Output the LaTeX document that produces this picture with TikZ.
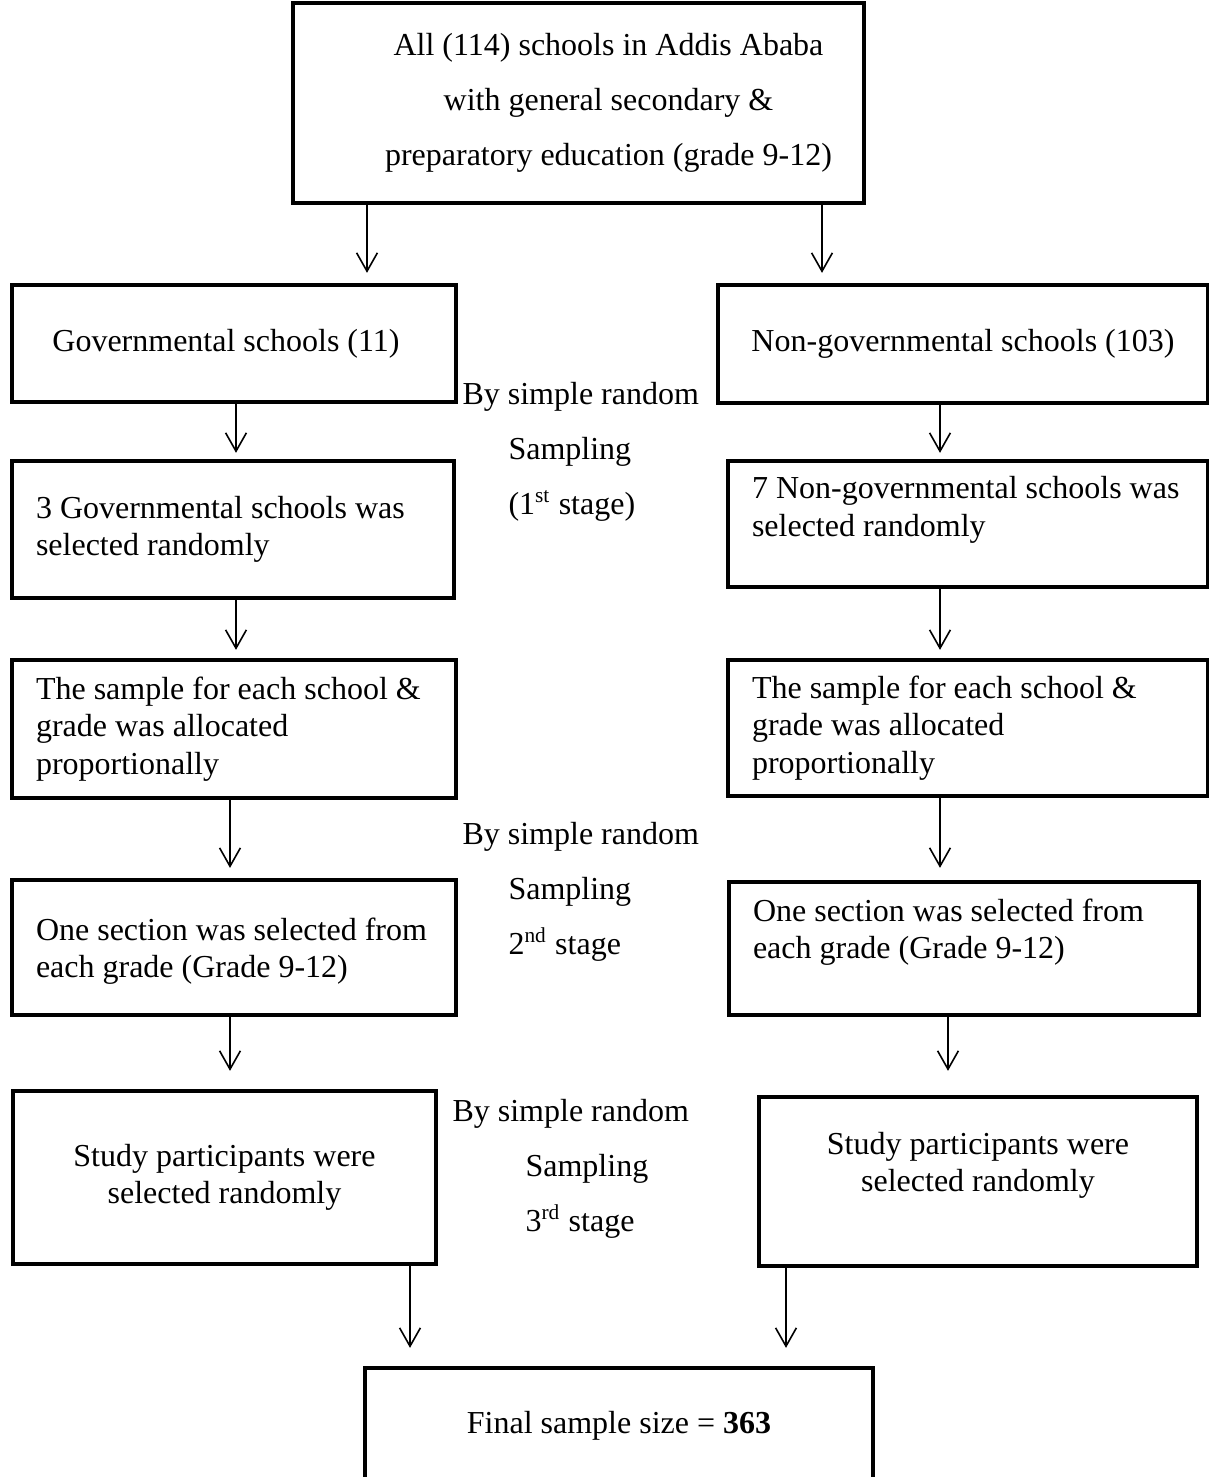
\documentclass[tikz,border=0pt]{standalone}
\usepackage{fontspec}
\setmainfont{Liberation Serif}
\usetikzlibrary{arrows.meta}
\tikzset{
>={Straight Barb[length=6.9pt,width=7.8pt]}, % open arrow heads
every node/.style={font=\fontsize{12}{14}\selectfont}, % 12pt serif, single spacing
box/.style={draw, rectangle, line width=1.6pt, inner xsep=9pt, inner ysep=0pt}, % thick frame round each step
lbox/.style={box, align=flush left}, % text flush left
cbox/.style={box, align=flush center}, % text centred
nudge/.style={execute at begin node={\advance\leftskip #1\relax\parfillskip=0pt\relax}}, % moves centred text sideways
sampling/.style={align=flush left, inner sep=0pt, anchor=west, font=\fontsize{12}{20.6}\selectfont}, % notes between the columns
flow/.style={->, line width=0.6pt}, % the connectors
}
\begin{document}
\begin{tikzpicture}[x=0.375pt, y=-0.375pt]
  \useasboundingbox (0,0) rectangle (1209,1477);
  % population
  \node[cbox, nudge=22.5pt, minimum width=214.1pt, minimum height=75pt, text width=196.1pt,
        font=\fontsize{12}{20.6}\selectfont] (all) at (578.5,103)
    {All (114) schools in Addis Ababa\\with general secondary \&\\preparatory education (grade 9-12)};
  % the two strata
  \node[cbox, nudge=-6pt, minimum width=166.5pt, minimum height=43.9pt, text width=148.5pt] (gov) at (234,343.5) {Governmental schools (11)};
  \node[cbox, minimum width=183.75pt, minimum height=44.25pt, text width=165.75pt] (ngov) at (963,344) {Non-governmental schools (103)};
  % first stage
  \node[lbox, minimum width=165.75pt, minimum height=51.4pt, text width=147.75pt] (gsel) at (233,529.5) {3 Governmental schools was\\selected randomly};
  \node[lbox, minimum width=180pt, minimum height=47.25pt, text width=162pt, text depth=27.1pt] (nsel) at (968,524) {7 Non-governmental schools was\\selected randomly};
  % allocation
  \node[lbox, minimum width=166.5pt, minimum height=51.75pt, text width=148.5pt] (gsam) at (234,729) {The sample for each school \&\\grade was allocated\\proportionally};
  \node[lbox, minimum width=180pt, minimum height=51pt, text width=162pt] (nsam) at (968,728) {The sample for each school \&\\grade was allocated\\proportionally};
  % second stage
  \node[lbox, minimum width=166.5pt, minimum height=50.6pt, text width=148.5pt, text depth=14pt] (gsec) at (234,947.5) {One section was selected from\\each grade (Grade 9-12)};
  \node[lbox, minimum width=176.25pt, minimum height=49.9pt, text width=158.25pt, text depth=29pt] (nsec) at (964,948.5) {One section was selected from\\each grade (Grade 9-12)};
  % third stage
  \node[cbox, minimum width=158.6pt, minimum height=64.9pt, text width=140.6pt] (gstu) at (224.5,1177.5) {Study participants were\\selected randomly};
  \node[cbox, minimum width=164.25pt, minimum height=63.4pt, text width=146.25pt, text depth=28.6pt] (nstu) at (978,1181.5) {Study participants were\\selected randomly};
  % result
  \node[cbox, minimum width=190.5pt, minimum height=43.5pt, text width=172.5pt] (final) at (619,1426) {Final sample size = \textbf{363}};
  % notes between the columns
  \node[sampling] (stage1) at (462,452) {By simple random\\\hspace*{17.25pt}Sampling\\\hspace*{17.25pt}(1\textsuperscript{st} stage)};
  \node[sampling] (stage2) at (462,892) {By simple random\\\hspace*{17.25pt}Sampling\\\hspace*{17.25pt}2\textsuperscript{nd} stage};
  \node[sampling] (stage3) at (452,1169) {By simple random\\\hspace*{27.4pt}Sampling\\\hspace*{27.4pt}3\textsuperscript{rd} stage};
  % connectors
  \path[flow] (all.south -| 367,0) edge[shorten >=3.75pt] (gov.north -| 367,0)
    (all.south -| 822,0) edge[shorten >=3.75pt] (ngov.north -| 822,0)
    (gov.south -| 236,0) edge[shorten >=2.25pt] (gsel.north -| 236,0)
    (ngov.south -| 940,0) edge[shorten >=2.25pt] (nsel.north -| 940,0)
    (gsel.south -| 236,0) edge[shorten >=3pt] (gsam.north -| 236,0)
    (nsel.south -| 940,0) edge[shorten >=3pt] (nsam.north -| 940,0)
    (gsam.south -| 230,0) edge[shorten >=3.75pt] (gsec.north -| 230,0)
    (nsam.south -| 940,0) edge[shorten >=4.5pt] (nsec.north -| 940,0)
    (gsec.south -| 230,0) edge[shorten >=6.75pt] (gstu.north -| 230,0)
    (nsec.south -| 948,0) edge[shorten >=9pt] (nstu.north -| 948,0)
    (gstu.south -| 410,0) edge[shorten >=6.75pt] (final.north -| 410,0)
    (nstu.south -| 786,0) edge[shorten >=6.75pt] (final.north -| 786,0);
\end{tikzpicture}
\end{document}
